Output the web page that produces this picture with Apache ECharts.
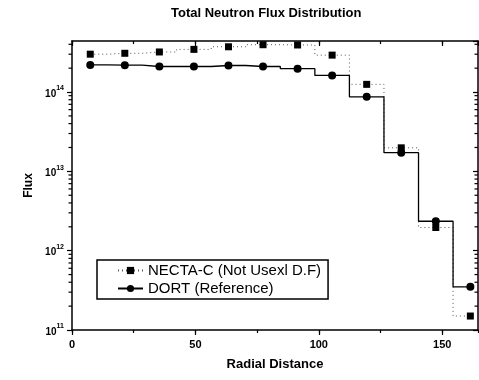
<!DOCTYPE html>
<html>
<head>
<meta charset="utf-8">
<script src="https://cdn.jsdelivr.net/npm/echarts@6/dist/echarts.min.js"></script>
<style>html,body{margin:0;padding:0;background:#fff;}#c{width:479px;height:380px;}</style>
</head>
<body>
<div id="c"></div>
<script>
// ---- data ----
const chartTitle = 'Total Neutron Flux Distribution';
const xName = 'Radial Distance';
const yName = 'Flux';
const seriesNames = ['NECTA-C (Not Usexl D.F)', 'DORT (Reference)'];
const radial = [7.4, 21.4, 35.4, 49.4, 63.4, 77.4, 91.4, 105.4, 119.4, 133.4, 147.4, 161.4];
const necta = [3.0e14, 3.08e14, 3.2e14, 3.45e14, 3.72e14, 3.95e14, 3.92e14, 2.92e14, 1.25e14, 1.98e13, 1.96e12, 1.5e11];
const dort  = [2.2e14, 2.18e14, 2.1e14, 2.1e14, 2.16e14, 2.1e14, 1.97e14, 1.62e14, 8.7e13, 1.72e13, 2.35e12, 3.5e11];
const xTickValues = [0, 50, 100, 150];
const yDecades = [1e11, 1e12, 1e13, 1e14];

const X_MIN = 0, X_MAX = 164.5, Y_MIN = 1e11, Y_MAX = 4.4e14;
const FONT = '"Liberation Sans", Arial, sans-serif';

// minor log tick values (2..9 x each decade)
const minorY = [];
yDecades.forEach(d => { for (let m = 2; m <= 9; m++) { const v = m * d; if (v <= Y_MAX) minorY.push(v); } });

const noSplit = { show: false };

function xAx(pos, interval, tickLen, inside, showLine, showLabel, extra) {
  return Object.assign({
    type: 'value', position: pos, min: X_MIN, max: X_MAX, interval: interval,
    axisLine: { show: showLine, onZero: false, lineStyle: { color: '#000', width: 1.5 } },
    axisTick: { show: true, inside: inside, length: tickLen, lineStyle: { color: '#000', width: 1.2 } },
    axisLabel: { show: showLabel, margin: 9, color: '#000', fontFamily: FONT, fontWeight: 'bold', fontSize: 11, showMaxLabel: false,
      formatter: v => (xTickValues.indexOf(v) >= 0 ? String(v) : '') },
    splitLine: noSplit
  }, extra || {});
}
function yAxMajor(pos, inside, showLabel, extra) {
  return Object.assign({
    type: 'log', logBase: 10, position: pos, min: Y_MIN, max: Y_MAX,
    axisLine: { show: true, onZero: false, lineStyle: { color: '#000', width: 1.5 } },
    axisTick: { show: true, inside: inside, length: 5, lineStyle: { color: '#000', width: 1.2 } },
    axisLabel: { show: showLabel, margin: 8, showMaxLabel: false,
      formatter: v => { const e = Math.round(Math.log10(v)); return '{b|10}{s|' + e + '}'; },
      rich: {
        b: { fontFamily: FONT, fontWeight: 'bold', fontSize: 10, color: '#000', lineHeight: 14, verticalAlign: 'bottom' },
        s: { fontFamily: FONT, fontWeight: 'bold', fontSize: 7, color: '#000', lineHeight: 14, verticalAlign: 'top' }
      } },
    splitLine: noSplit
  }, extra || {});
}

const chart = echarts.init(document.getElementById('c'), null, { renderer: 'canvas' });
chart.setOption({
  animation: false,
  backgroundColor: '#fff',
  title: {
    text: chartTitle, left: 171, top: 7, padding: 0,
    textStyle: { fontFamily: FONT, fontWeight: 'bold', fontSize: 13, color: '#000' }
  },
  grid: { left: 72, right: 1, top: 41, bottom: 50, containLabel: false, outerBoundsMode: 'none' },
  legend: {
    orient: 'vertical', left: 97, top: 260,
    padding: [3, 7, 3, 20], itemGap: 3, itemWidth: 25, itemHeight: 9,
    borderColor: '#000', borderWidth: 1.5, backgroundColor: '#fff',
    textStyle: { fontFamily: FONT, fontSize: 15, color: '#000' },
    data: seriesNames
  },
  xAxis: [
    xAx('bottom', 50, 5, false, true, true, {
      name: xName, nameLocation: 'middle', nameGap: 28,
      nameTextStyle: { fontFamily: FONT, fontWeight: 'bold', fontSize: 13, color: '#000' } }),
    xAx('bottom', 25, 3, false, false, false),
    xAx('top', 50, 5, true, true, false),
    xAx('top', 25, 3, true, false, false)
  ],
  yAxis: [
    yAxMajor('left', false, true, {
      name: yName, nameLocation: 'middle', nameGap: 31, nameRotate: 90,
      nameTextStyle: { fontFamily: FONT, fontWeight: 'bold', fontSize: 12, color: '#000' } }),
    yAxMajor('right', true, false)
  ],
  series: [
    {
      // minor log ticks on the left (outward) and right (inward) frame, placed through the axis scale
      name: 'minorTicks', type: 'custom', xAxisIndex: 0, yAxisIndex: 0, silent: true, clip: false, z: 5,
      data: minorY.map(v => [X_MIN, v]),
      encode: { x: 0, y: 1 },
      renderItem: (params, api) => {
        const v = api.value(1);
        const pL = api.coord([X_MIN, v]);
        const pR = api.coord([X_MAX, v]);
        const st = { stroke: '#000', lineWidth: 1.2 };
        return { type: 'group', children: [
          { type: 'line', shape: { x1: pL[0] - 3.5, y1: pL[1], x2: pL[0], y2: pL[1] }, style: st },
          { type: 'line', shape: { x1: pR[0] - 3.5, y1: pR[1], x2: pR[0], y2: pR[1] }, style: st }
        ] };
      }
    },
    {
      name: seriesNames[0], type: 'line', step: 'middle', xAxisIndex: 0, yAxisIndex: 0,
      data: radial.map((x, i) => [x, necta[i]]),
      symbol: 'rect', symbolSize: 7,
      itemStyle: { color: '#000' },
      lineStyle: { color: '#555', width: 1, type: [1, 3] }
    },
    {
      name: seriesNames[1], type: 'line', step: 'middle', xAxisIndex: 0, yAxisIndex: 0,
      data: radial.map((x, i) => [x, dort[i]]),
      symbol: 'circle', symbolSize: 8,
      itemStyle: { color: '#000' },
      lineStyle: { color: '#000', width: 1.3, type: 'solid' }
    }
  ]
});
</script>
</body>
</html>
